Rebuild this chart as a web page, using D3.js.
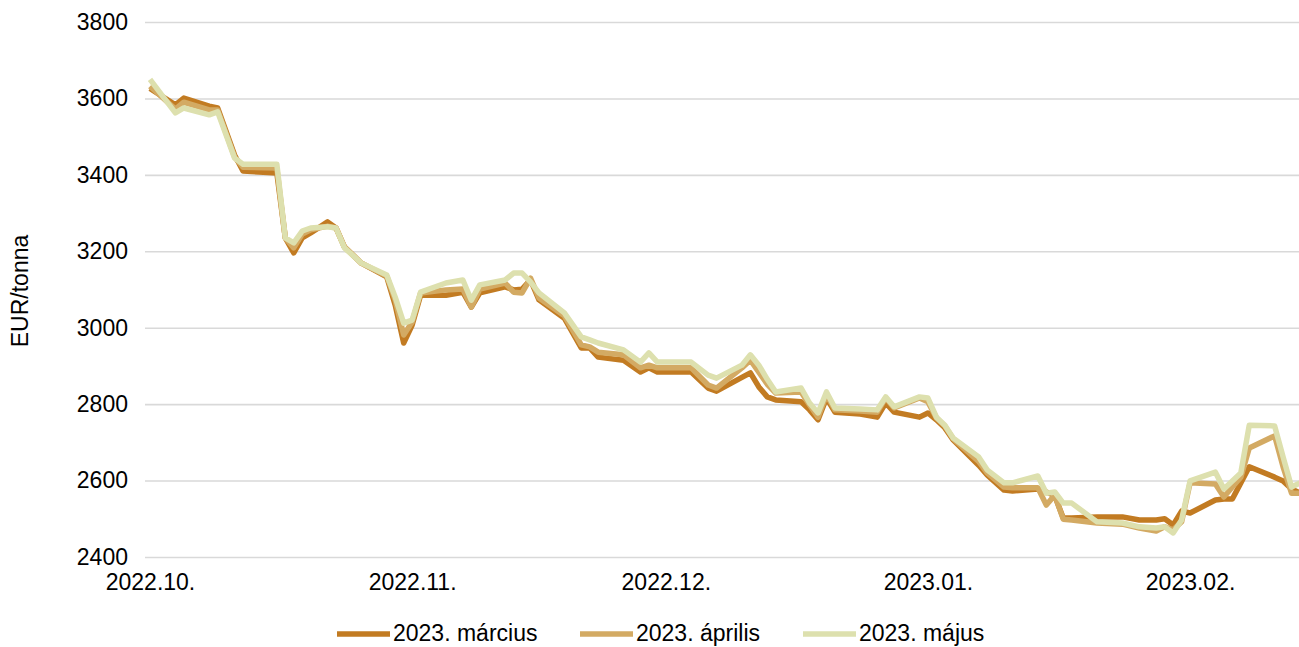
<!DOCTYPE html>
<html>
<head>
<meta charset="utf-8">
<script src="https://cdn.jsdelivr.net/npm/d3@7"></script>
<style>
  body { margin: 0; background: #fff; }
  svg { display: block; font-family: Arial, "Liberation Sans", sans-serif; }
  .grid line { stroke: #d9d9d9; stroke-width: 1.6px; }
  .tick text { fill: #000; font-size: 23px; }
</style>
</head>
<body>
<div id="chart"></div>
<script>
// dates of the points (trading days)
var dates = ["2022-10-01","2022-10-04","2022-10-05","2022-10-08","2022-10-09","2022-10-11","2022-10-12",
  "2022-10-16","2022-10-17","2022-10-18","2022-10-19","2022-10-20","2022-10-22","2022-10-23","2022-10-24",
  "2022-10-26","2022-10-29","2022-10-30","2022-10-31","2022-11-01","2022-11-02","2022-11-05","2022-11-07",
  "2022-11-08","2022-11-09","2022-11-12","2022-11-13","2022-11-14","2022-11-15","2022-11-16","2022-11-19",
  "2022-11-21","2022-11-22","2022-11-23","2022-11-26","2022-11-28","2022-11-29","2022-11-30","2022-12-04",
  "2022-12-06","2022-12-07","2022-12-10","2022-12-11","2022-12-12","2022-12-13","2022-12-14","2022-12-17",
  "2022-12-18","2022-12-19","2022-12-20","2022-12-21","2022-12-24","2022-12-26","2022-12-27","2022-12-28",
  "2022-12-31","2023-01-01","2023-01-02","2023-01-03","2023-01-04","2023-01-07","2023-01-08","2023-01-10",
  "2023-01-11","2023-01-14","2023-01-15","2023-01-16","2023-01-17","2023-01-18","2023-01-21","2023-01-24",
  "2023-01-26","2023-01-28","2023-01-29","2023-01-30","2023-01-31","2023-02-01","2023-02-04","2023-02-05",
  "2023-02-06","2023-02-07","2023-02-08","2023-02-11","2023-02-12","2023-02-13","2023-02-14"];

var marcius = [3626,3583,3601,3580,3575,3452,3410,3405,3235,3196,3235,3248,3277,3261,3211,
  3169,3133,3059,2960,3007,3085,3085,3093,3054,3091,3107,3099,3101,3125,3073,3025,
  2947,2947,2923,2915,2884,2895,2884,2884,2842,2834,2870,2882,2845,2819,2811,2806,
  2785,2759,2816,2779,2774,2766,2803,2779,2766,2777,2759,2738,2706,2640,2615,2575,
  2573,2578,2570,2560,2502,2502,2505,2505,2497,2497,2500,2484,2520,2515,2549,2552,
  2552,2594,2636,2609,2599,2578,2567];

var aprilis = [3632,3572,3590,3570,3570,3447,3420,3418,3235,3209,3245,3256,3266,3261,3211,
  3169,3135,3072,2981,3015,3091,3099,3101,3054,3101,3117,3093,3091,3130,3078,3031,
  2955,2950,2936,2929,2895,2902,2895,2895,2850,2842,2895,2915,2884,2852,2829,2832,
  2798,2766,2824,2785,2782,2779,2816,2790,2816,2806,2764,2743,2709,2650,2620,2583,
  2581,2581,2536,2562,2499,2497,2489,2486,2476,2468,2479,2471,2492,2594,2591,2557,
  2583,2609,2685,2717,2636,2567,2567];

var majus = [3650,3562,3575,3557,3565,3444,3428,3428,3235,3222,3253,3261,3264,3261,3209,
  3169,3138,3080,3012,3020,3093,3117,3125,3072,3112,3125,3143,3143,3120,3091,3039,
  2976,2968,2960,2942,2910,2934,2910,2910,2876,2868,2902,2929,2902,2865,2832,2842,
  2803,2777,2832,2790,2787,2785,2819,2793,2819,2816,2766,2745,2711,2662,2628,2594,
  2594,2612,2567,2570,2541,2541,2492,2489,2479,2476,2479,2463,2497,2599,2622,2578,
  2599,2620,2745,2743,2662,2583,2594];

var seriesNames = ["2023. március", "2023. április", "2023. május"];
var colors = ["#c27b22", "#d3aa63", "#dde0ae"];
var yTicks = [2400, 2600, 2800, 3000, 3200, 3400, 3600, 3800];
var xTicks = ["2022-10-01", "2022-11-01", "2022-12-01", "2023-01-01", "2023-02-01"];

var width = 1299, height = 647;
var parse = d3.timeParse("%Y-%m-%d");

var x = d3.scaleTime()
  .domain([parse("2022-10-01"), parse("2023-02-14")])
  .range([150, 1300]);
var y = d3.scaleLinear().domain([2400, 3800]).range([557, 22]);

var svg = d3.select("#chart").append("svg")
  .attr("width", width).attr("height", height);

// horizontal gridlines + y labels
var yAxis = svg.append("g")
  .attr("class", "grid")
  .attr("transform", "translate(145,0)")
  .call(d3.axisLeft(y).tickValues(yTicks).tickSize(-(width - 145)).tickPadding(17).tickFormat(d3.format("d")));
yAxis.select(".domain").remove();

var xAxis = svg.append("g")
  .attr("transform", "translate(0,571)")
  .call(d3.axisBottom(x)
    .tickValues(xTicks.map(parse))
    .tickSize(0)
    .tickFormat(d3.timeFormat("%Y.%m.")));
xAxis.select(".domain").remove();

svg.append("text")
  .attr("transform", "translate(28,291) rotate(-90)")
  .attr("text-anchor", "middle")
  .style("font-size", "23px")
  .text("EUR/tonna");

var allSeries = [marcius, aprilis, majus].map(function(vals, i) {
  return {
    name: seriesNames[i],
    color: colors[i],
    values: vals.map(function(v, j) { return {date: parse(dates[j]), value: v}; })
  };
});

var line = d3.line()
  .x(function(d) { return x(d.date); })
  .y(function(d) { return y(d.value); });

svg.append("clipPath").attr("id", "clip")
  .append("rect").attr("x", 0).attr("y", 0).attr("width", width).attr("height", 600);

svg.append("g").attr("clip-path", "url(#clip)")
  .selectAll(".series")
  .data(allSeries)
  .enter().append("path")
  .attr("class", "series")
  .attr("fill", "none")
  .attr("stroke", function(d) { return d.color; })
  .attr("stroke-width", 5.5)
  .attr("stroke-linejoin", "round")
  .attr("d", function(d) { return line(d.values); });

// legend
var legendX = [337, 580, 803];
var legend = svg.selectAll(".legend")
  .data(allSeries)
  .enter().append("g")
  .attr("class", "legend")
  .attr("transform", function(d, i) { return "translate(" + legendX[i] + ",634)"; });

legend.append("line")
  .attr("x1", 0).attr("x2", 53)
  .attr("stroke", function(d) { return d.color; })
  .attr("stroke-width", 5.5);

legend.append("text")
  .attr("x", 56)
  .attr("y", 7)
  .style("font-size", "23px")
  .text(function(d) { return d.name; });
</script>
</body>
</html>
